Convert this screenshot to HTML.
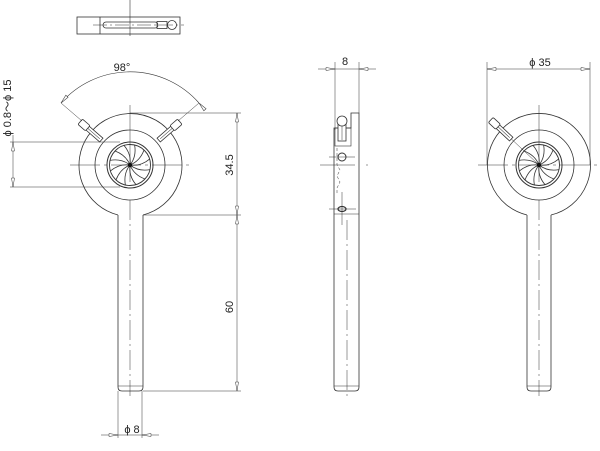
<!DOCTYPE html>
<html><head><meta charset="utf-8"><style>
html,body{margin:0;padding:0;background:#fff;}
svg{display:block;}
text{font-family:"Liberation Sans",sans-serif;fill:#222;}
</style></head><body>
<svg width="600" height="451" viewBox="0 0 600 451" xmlns="http://www.w3.org/2000/svg">
<defs>
<g id="iris">
  <circle cx="0" cy="0" r="23" fill="none" stroke="#333" stroke-width="1"/>
  <circle cx="0" cy="0" r="20.5" fill="none" stroke="#333" stroke-width="0.9"/>
  <g fill="none" stroke="#333" stroke-width="0.8">
    <path id="bl" d="M0,0 Q10,-4 14,-15"/>
    <use href="#bl" transform="rotate(30)"/><use href="#bl" transform="rotate(60)"/><use href="#bl" transform="rotate(90)"/>
    <use href="#bl" transform="rotate(120)"/><use href="#bl" transform="rotate(150)"/><use href="#bl" transform="rotate(180)"/>
    <use href="#bl" transform="rotate(210)"/><use href="#bl" transform="rotate(240)"/><use href="#bl" transform="rotate(270)"/>
    <use href="#bl" transform="rotate(300)"/><use href="#bl" transform="rotate(330)"/>
  </g>
  <circle cx="0" cy="0" r="2.2" fill="#111"/>
</g>
<g id="pin" fill="#fff" stroke="#333" stroke-width="0.8">
  <rect x="-2.5" y="-57" width="5" height="19"/>
  <rect x="-3.5" y="-66" width="7" height="10" rx="1.5"/>
  <line x1="0" y1="-56" x2="0" y2="-40" stroke-width="0.5"/>
</g>
<marker id="ar" markerWidth="10" markerHeight="6" refX="0" refY="3" orient="auto" markerUnits="userSpaceOnUse">
  <path d="M0,3 L9,1.5 L9,4.5 Z" fill="#fff" stroke="#444" stroke-width="0.6"/>
</marker>
</defs>

<g stroke="#333" stroke-width="0.8" fill="none">
<!-- TOP VIEW -->
<rect x="77" y="17" width="103" height="17"/>
<line x1="100" y1="17" x2="100" y2="34"/>
<rect x="103" y="22" width="55" height="6" rx="3"/>
<rect x="157" y="21.5" width="10" height="7"/>
<circle cx="172" cy="25" r="4.5"/>
<line x1="93" y1="25" x2="184" y2="25" stroke-width="0.5" stroke-dasharray="14,3,2,3"/>
<line x1="130" y1="0" x2="130" y2="36" stroke-width="0.6"/>

<!-- FRONT VIEW -->
<path d="M118,215 A51.5,51.5 0 1 1 143,215"/>
<circle cx="130" cy="165" r="35"/>
<line x1="118" y1="215" x2="118" y2="387"/>
<line x1="143" y1="215" x2="143" y2="387"/>
<path d="M118,387 Q118,391 122,391 L139,391 Q143,391 143,387"/>
<line x1="118" y1="386" x2="143" y2="386" stroke-width="0.5"/>
<line x1="130" y1="200" x2="130" y2="396" stroke-width="0.5" stroke-dasharray="20,4,2,4"/>
<line x1="70" y1="165" x2="192" y2="165" stroke-width="0.5" stroke-dasharray="30,4,3,4"/>
<line x1="130" y1="105" x2="130" y2="182" stroke-width="0.5"/>
<use href="#pin" transform="translate(130,165) rotate(-49)"/>
<use href="#pin" transform="translate(130,165) rotate(49)"/>
<path d="M61,103 A92,92 0 0 1 199,103" stroke-width="0.6" marker-start="url(#ar)" marker-end="url(#ar)"/>
<line x1="61" y1="103" x2="82" y2="121" stroke-width="0.5"/>
<line x1="199" y1="103" x2="178" y2="121" stroke-width="0.5"/>
<line x1="10" y1="142" x2="120" y2="142" stroke-width="0.5"/>
<line x1="10" y1="187" x2="120" y2="187" stroke-width="0.5"/>
<line x1="13" y1="135" x2="13" y2="187" stroke-width="0.5"/>
<path d="M13,142 L11.5,151 L14.5,151 Z M13,187 L11.5,178 L14.5,178 Z" fill="#fff" stroke-width="0.5"/>
<line x1="130" y1="113" x2="241" y2="113" stroke-width="0.5"/>
<line x1="143" y1="215" x2="241" y2="215" stroke-width="0.5"/>
<line x1="143" y1="391" x2="241" y2="391" stroke-width="0.5"/>
<line x1="237" y1="113" x2="237" y2="391" stroke-width="0.5"/>
<path d="M237,113 L235.5,122 L238.5,122 Z M237,215 L235.5,206 L238.5,206 Z M237,215 L235.5,224 L238.5,224 Z M237,391 L235.5,382 L238.5,382 Z" fill="#fff" stroke-width="0.5"/>
<line x1="118" y1="391" x2="118" y2="438" stroke-width="0.5"/>
<line x1="142" y1="391" x2="142" y2="438" stroke-width="0.5"/>
<line x1="101" y1="435" x2="159" y2="435" stroke-width="0.5"/>
<path d="M118,435 L109,433.5 L109,436.5 Z M142,435 L151,433.5 L151,436.5 Z" fill="#fff" stroke-width="0.5"/>

<!-- SIDE VIEW -->
<path d="M351,128 L351,113 L359,113 L359,387 Q359,391 355,391 L338,391 Q334,391 334,387 L334,128 Z"/>
<line x1="334" y1="214" x2="359" y2="214" stroke-width="0.6"/>
<line x1="334" y1="386" x2="359" y2="386" stroke-width="0.5"/>
<rect x="335" y="128" width="16" height="18" stroke-width="0.6"/>
<rect x="338" y="121" width="8" height="20" fill="#fff"/>
<line x1="342" y1="125" x2="342" y2="140" stroke-width="0.5"/>
<circle cx="342" cy="121" r="5" fill="#fff"/>
<circle cx="342" cy="157" r="4" stroke-width="1"/>
<line x1="329" y1="157" x2="355" y2="157" stroke-width="0.5"/>
<line x1="320" y1="165" x2="355" y2="165" stroke-width="0.5"/>
<line x1="366" y1="165" x2="368" y2="165" stroke-width="0.5"/>
<path d="M337,148 L337,165 L340,170 L337,176 L340,182 L337,188 L337,195" stroke-width="0.5" stroke-dasharray="3,2"/>
<ellipse cx="342" cy="209" rx="4" ry="2.5" stroke-width="1.2"/>
<line x1="329" y1="209" x2="356" y2="209" stroke-width="0.5"/>
<line x1="342" y1="192" x2="342" y2="225" stroke-width="0.5"/>
<line x1="347" y1="220" x2="347" y2="396" stroke-width="0.5" stroke-dasharray="20,4,2,4"/>
<line x1="335" y1="62" x2="335" y2="130" stroke-width="0.5"/>
<line x1="359" y1="62" x2="359" y2="113" stroke-width="0.5"/>
<line x1="318" y1="69" x2="376" y2="69" stroke-width="0.5"/>
<path d="M335,69 L326,67.5 L326,70.5 Z M359,69 L368,67.5 L368,70.5 Z" fill="#fff" stroke-width="0.5"/>

<!-- RIGHT VIEW -->
<path d="M527,215 A51.5,51.5 0 1 1 551,215"/>
<circle cx="539" cy="165" r="35"/>
<line x1="527" y1="215" x2="527" y2="387"/>
<line x1="551" y1="215" x2="551" y2="387"/>
<path d="M527,387 Q527,391 531,391 L547,391 Q551,391 551,387"/>
<line x1="527" y1="386" x2="551" y2="386" stroke-width="0.5"/>
<line x1="539" y1="200" x2="539" y2="396" stroke-width="0.5" stroke-dasharray="20,4,2,4"/>
<line x1="478" y1="165" x2="600" y2="165" stroke-width="0.5" stroke-dasharray="30,4,3,4"/>
<line x1="539" y1="105" x2="539" y2="182" stroke-width="0.5"/>
<line x1="539" y1="165" x2="505" y2="133" stroke-width="0.5"/>
<use href="#pin" transform="translate(539,165) rotate(-47)"/>
<line x1="487" y1="62" x2="487" y2="165" stroke-width="0.5"/>
<line x1="590" y1="62" x2="590" y2="165" stroke-width="0.5"/>
<line x1="487" y1="69" x2="590" y2="69" stroke-width="0.5"/>
<path d="M487,69 L496,67.5 L496,70.5 Z M590,69 L581,67.5 L581,70.5 Z" fill="#fff" stroke-width="0.5"/>
</g>
<use href="#iris" transform="translate(130,165)"/>
<use href="#iris" transform="translate(539,165)"/>

<text x="122" y="71" font-size="11" text-anchor="middle">98°</text>
<text x="345" y="65" font-size="11" text-anchor="middle">8</text>
<text x="540" y="66" font-size="11" text-anchor="middle">ϕ 35</text>
<text x="132" y="433" font-size="11" text-anchor="middle">ϕ 8</text>
<text transform="translate(233,165) rotate(-90)" font-size="11" text-anchor="middle">34.5</text>
<text transform="translate(233,307) rotate(-90)" font-size="11" text-anchor="middle">60</text>
<text transform="translate(11,108) rotate(-90)" font-size="11" text-anchor="middle">ϕ 0.8～ϕ 15</text>
</svg>
</body></html>
